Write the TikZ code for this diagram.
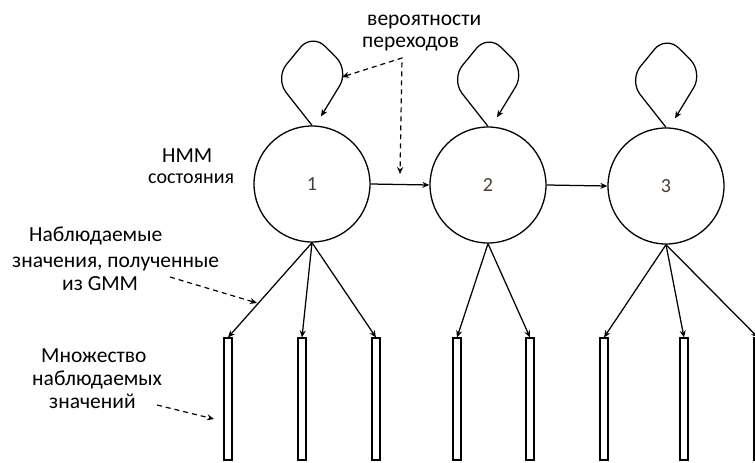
\documentclass[tikz,border=0pt]{standalone}
\usepackage{fontspec}
\setmainfont{Carlito}
\usetikzlibrary{arrows.meta}
\definecolor{numcol}{RGB}{70,62,55}
\begin{document}
\begin{tikzpicture}[x=1pt,y=-1pt,
  state/.style={circle, draw, line width=1.3pt, minimum size=116pt, inner sep=0pt,
    font=\fontsize{20}{23}\selectfont, text=numcol},
  bar/.style={rectangle, draw, line width=1.1pt, minimum width=8pt, minimum height=122pt, inner sep=0pt},
  arr/.style={-{Stealth[length=7pt,width=6pt]}, line width=1.25pt},
  dasharr/.style={dash pattern=on 5pt off 4pt, line width=1.2pt, {Stealth[length=7pt,width=6pt]}-{Stealth[length=7pt,width=6pt]}},
  dasharrone/.style={dash pattern=on 5pt off 4pt, line width=1.2pt, -{Stealth[length=7pt,width=6pt]}},
  lbl/.style={font=\fontsize{21.5}{23}\selectfont, inner sep=0pt, anchor=base west},
  lblsmall/.style={font=\fontsize{20}{23}\selectfont, inner sep=0pt, anchor=base west}
]
\useasboundingbox (0,0) rectangle (755,463);
\clip (0,0) rectangle (755,463);

% states
\node[state] (c1) at (312,184) {1};
\node[state] (c2) at (488,185) {2};
\node[state] (c3) at (666,186) {3};

% self loops
\foreach \c in {c1,c2,c3}{
  \draw[arr, rounded corners=18pt] (\c.north) -- ++(-37,-47) -- ++(37,-45) -- ++(37,37) -- ++(-28,46);
}

% transitions
\draw[arr] (c1.east) -- (c2.west);
\draw[arr] (c2.east) -- (c3.west);

% observation bars
\node[bar] (b1) at (228,399) {};
\node[bar] (b2) at (302,399) {};
\node[bar] (b3) at (376,399) {};
\node[bar] (b4) at (457,399) {};
\node[bar] (b5) at (530,399) {};
\node[bar] (b6) at (604,399) {};
\node[bar] (b7) at (684,399) {};
\node[bar] (b8) at (758,399) {};

\foreach \b in {b1,b2,b3}{ \draw[arr] (c1.south) -- (\b.north); }
\foreach \b in {b4,b5}{ \draw[arr] (c2.south) -- (\b.north); }
\foreach \b in {b6,b7,b8}{ \draw[arr] (c3.south) -- (\b.north); }

% labels
\node[lbl] (tp1) at (367,25) {вероятности};
\node[lbl] (tp2) at (362,47) {переходов};
\node[lbl] (hmm1) at (162,162) {НММ};
\node[lblsmall] (hmm2) at (148,183) {состояния};
\node[lbl] (obs1) at (29,241) {Наблюдаемые};
\node[lbl] (obs2) at (12,267) {значения, полученные};
\node[lbl] (obs3) at (62,290) {из GMM};
\node[lbl] (set1) at (41,362) {Множество};
\node[lbl] (set2) at (32,385) {наблюдаемых};
\node[lbl] (set3) at (49,408) {значений};

% dashed pointers
\coordinate (tcorner) at (402,58);
\coordinate (tleft) at (342,77);
\coordinate (tdown) at (400,174);
\draw[dasharr] (tleft) -- (tcorner) -- (tdown);

\coordinate (gs) at (170,277);
\coordinate (gt) at (257,303);
\draw[dasharrone] (gs) -- (gt);

\coordinate (ms) at (157,405);
\coordinate (mt) at (214,419);
\draw[dasharrone] (ms) -- (mt);
\end{tikzpicture}
\end{document}
